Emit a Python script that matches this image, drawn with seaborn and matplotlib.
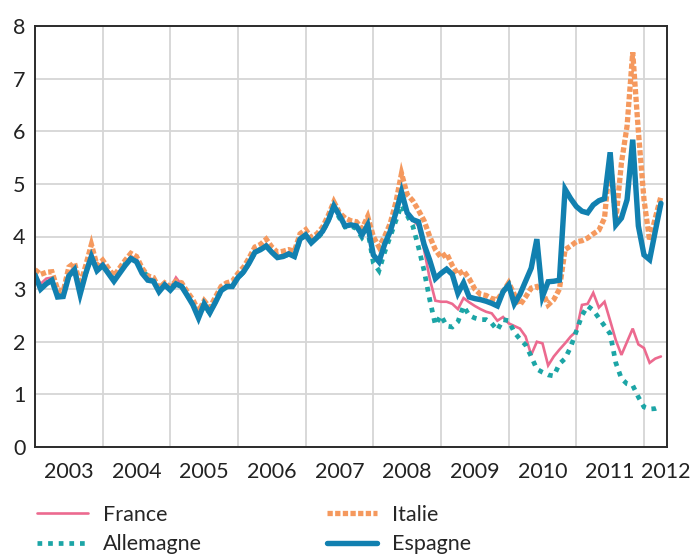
import numpy as np
import pandas as pd
import matplotlib
matplotlib.use("Agg")
import matplotlib.pyplot as plt
import seaborn as sns

# Monthly values, January 2003 -> April 2012
france = [
    3.30, 3.10, 3.20, 3.22, 2.92, 2.90, 3.30, 3.42, 3.00, 3.35, 3.70, 3.40,
    3.50, 3.35, 3.20, 3.35, 3.50, 3.62, 3.58, 3.35, 3.22, 3.18, 2.98, 3.12,
    3.02, 3.22, 3.08, 2.90, 2.72, 2.50, 2.68, 2.58, 2.78, 2.98, 3.05, 3.08,
    3.25, 3.35, 3.52, 3.72, 3.78, 3.85, 3.72, 3.62, 3.65, 3.70, 3.65, 3.98,
    4.05, 3.93, 4.00, 4.12, 4.33, 4.60, 4.40, 4.22, 4.25, 4.20, 4.05, 4.22,
    3.62, 3.50, 3.82, 4.10, 4.42, 4.82, 4.42, 4.32, 4.20, 3.75, 3.20, 2.78,
    2.76, 2.76, 2.72, 2.62, 2.83, 2.75, 2.68, 2.62, 2.57, 2.54, 2.40, 2.47,
    2.35, 2.30, 2.25, 2.10, 1.75, 2.00, 1.97, 1.55, 1.72, 1.85, 1.97, 2.10,
    2.20, 2.70, 2.72, 2.93, 2.65, 2.76, 2.40, 2.03, 1.75, 2.00, 2.25, 1.95,
    1.88, 1.60, 1.68, 1.72,
]
allemagne = [
    3.25, 3.02, 3.12, 3.15, 2.88, 2.88, 3.25, 3.38, 2.95, 3.30, 3.62, 3.38,
    3.45, 3.32, 3.18, 3.32, 3.48, 3.58, 3.55, 3.35, 3.25, 3.18, 2.98, 3.08,
    3.00, 3.12, 3.06, 2.88, 2.72, 2.48, 2.68, 2.55, 2.76, 2.96, 3.04, 3.06,
    3.22, 3.32, 3.50, 3.70, 3.76, 3.82, 3.70, 3.60, 3.62, 3.66, 3.62, 3.94,
    4.02, 3.90, 3.96, 4.08, 4.30, 4.55, 4.35, 4.18, 4.20, 4.15, 3.98, 4.12,
    3.50, 3.35, 3.70, 4.00, 4.30, 4.60, 4.40, 4.20, 3.80, 3.35, 2.80, 2.32,
    2.50, 2.30, 2.28, 2.38, 2.68, 2.50, 2.45, 2.42, 2.42, 2.35, 2.22, 2.42,
    2.40, 2.18, 2.05, 1.94, 1.72, 1.48, 1.42, 1.37, 1.35, 1.58, 1.68, 1.90,
    2.20, 2.50, 2.68, 2.60, 2.45, 2.30, 2.15, 1.60, 1.30, 1.20, 1.17, 0.95,
    0.76, 0.72, 0.73, 0.77,
]
italie = [
    3.37, 3.28, 3.32, 3.33, 3.00, 2.95, 3.42, 3.50, 3.08, 3.45, 3.85, 3.45,
    3.55, 3.40, 3.25, 3.40, 3.55, 3.68, 3.62, 3.40, 3.25, 3.22, 3.02, 3.12,
    3.05, 3.15, 3.12, 2.95, 2.80, 2.58, 2.78, 2.65, 2.85, 3.05, 3.12, 3.15,
    3.30, 3.42, 3.60, 3.80, 3.85, 3.95, 3.80, 3.70, 3.72, 3.75, 3.72, 4.05,
    4.13, 3.98, 4.05, 4.18, 4.40, 4.66, 4.45, 4.35, 4.30, 4.28, 4.15, 4.38,
    4.00, 3.80, 4.00, 4.25, 4.65, 5.20, 4.80, 4.68, 4.50, 4.30, 4.00, 3.75,
    3.60, 3.68, 3.45, 3.28, 3.35, 3.20, 3.00, 2.90, 2.88, 2.82, 2.80, 2.95,
    3.12, 2.90, 2.70, 2.85, 3.02, 3.05, 2.95, 2.70, 2.80, 3.00, 3.75, 3.82,
    3.90, 3.92, 3.97, 4.05, 4.12, 4.35, 5.50, 4.30, 5.40, 6.10, 7.50, 6.00,
    4.70, 3.92, 4.35, 4.76,
]
espagne = [
    3.27, 3.00, 3.10, 3.17, 2.85, 2.86, 3.25, 3.37, 2.90, 3.30, 3.62, 3.35,
    3.45, 3.30, 3.15, 3.30, 3.45, 3.58, 3.52, 3.30, 3.17, 3.15, 2.95, 3.08,
    2.98, 3.10, 3.05, 2.88, 2.70, 2.45, 2.72, 2.55, 2.75, 2.97, 3.05, 3.05,
    3.22, 3.33, 3.50, 3.70, 3.75, 3.82, 3.70, 3.60, 3.62, 3.67, 3.62, 3.95,
    4.03, 3.88, 3.98, 4.10, 4.30, 4.58, 4.40, 4.20, 4.22, 4.20, 4.03, 4.22,
    3.65, 3.52, 3.85, 4.10, 4.45, 4.85, 4.45, 4.32, 4.28, 3.85, 3.55, 3.20,
    3.30, 3.38, 3.28, 2.92, 3.12, 2.85, 2.82, 2.80, 2.77, 2.73, 2.68, 2.95,
    3.08, 2.72, 2.90, 3.15, 3.40, 3.95, 2.86, 3.14, 3.15, 3.17, 4.90, 4.72,
    4.57, 4.48, 4.45, 4.60, 4.68, 4.72, 5.60, 4.22, 4.35, 4.70, 5.84, 4.20,
    3.65, 3.56, 4.10, 4.63,
]
pays = ["France", "Allemagne", "Italie", "Espagne"]
year_labels = ["2003", "2004", "2005", "2006", "2007", "2008", "2009", "2010", "2011", "2012"]
y_ticks = [0, 1, 2, 3, 4, 5, 6, 7, 8]

n = len(espagne)
t = 2003 + np.arange(n) / 12.0
series = {"France": france, "Allemagne": allemagne, "Italie": italie, "Espagne": espagne}
df = pd.concat(
    [pd.DataFrame({"t": t, "v": series[p], "pays": p}) for p in pays],
    ignore_index=True,
)

palette = {"France": "#EC6A8F", "Allemagne": "#1CA5A6", "Italie": "#F5995E", "Espagne": "#1180B0"}
widths = {"France": 1.9, "Allemagne": 3.4, "Italie": 3.8, "Espagne": 3.9}
dashes = {"France": "", "Allemagne": (1, 1.25), "Italie": (1, 0.45), "Espagne": ""}

sns.set_theme(style="white")
plt.rcParams["font.family"] = ["Lato", "DejaVu Sans"]

fig = plt.figure(figsize=(6.97, 5.55), dpi=100)
ax = fig.add_axes([35 / 697, 1 - 447 / 555, (667 - 35) / 697, (447 - 26) / 555])

sns.lineplot(
    data=df, x="t", y="v", hue="pays", style="pays", size="pays",
    hue_order=pays, style_order=pays, size_order=pays,
    palette=palette, dashes=dashes, sizes=widths,
    estimator=None, sort=False, ax=ax, legend=True,
)
for ln in ax.lines:
    ln.set_solid_joinstyle("miter")
    ln.set_dash_joinstyle("miter")

ax.set_xlim(2003.0, 2012.34)
ax.set_ylim(0, 8)
ax.set_xticks(range(2004, 2013))
ax.set_xticklabels([])
mids = [int(y) + 0.5 for y in year_labels[:-1]] + [2012.32]
ax.set_xticks(mids, minor=True)
ax.set_xticklabels(year_labels, minor=True)
ax.set_yticks(y_ticks)
ax.set_yticklabels([str(v) for v in y_ticks])
ax.tick_params(axis="x", which="both", length=0, pad=11, labelsize=15.5, colors="#222222")
ax.tick_params(axis="y", length=0, pad=7, labelsize=15.5, colors="#222222")
ax.grid(True, which="major", color="#d6d6d6", linewidth=1.3)
ax.set_axisbelow(True)
for s in ax.spines.values():
    s.set_visible(True)
    s.set_color("#2b2b2b")
    s.set_linewidth(1.4)
ax.set_xlabel("")
ax.set_ylabel("")

handles, labels = ax.get_legend_handles_labels()
ax.get_legend().remove()
fig.legend(
    handles, labels, loc="upper left",
    bbox_to_anchor=(37 / 697, 1 - 505 / 555),
    ncol=2, frameon=False, fontsize=15.5,
    handlelength=2.35, handletextpad=0.7, columnspacing=5.8,
    labelspacing=0.42, borderpad=0, borderaxespad=0,
)

fig.savefig("out.png", dpi=100)
